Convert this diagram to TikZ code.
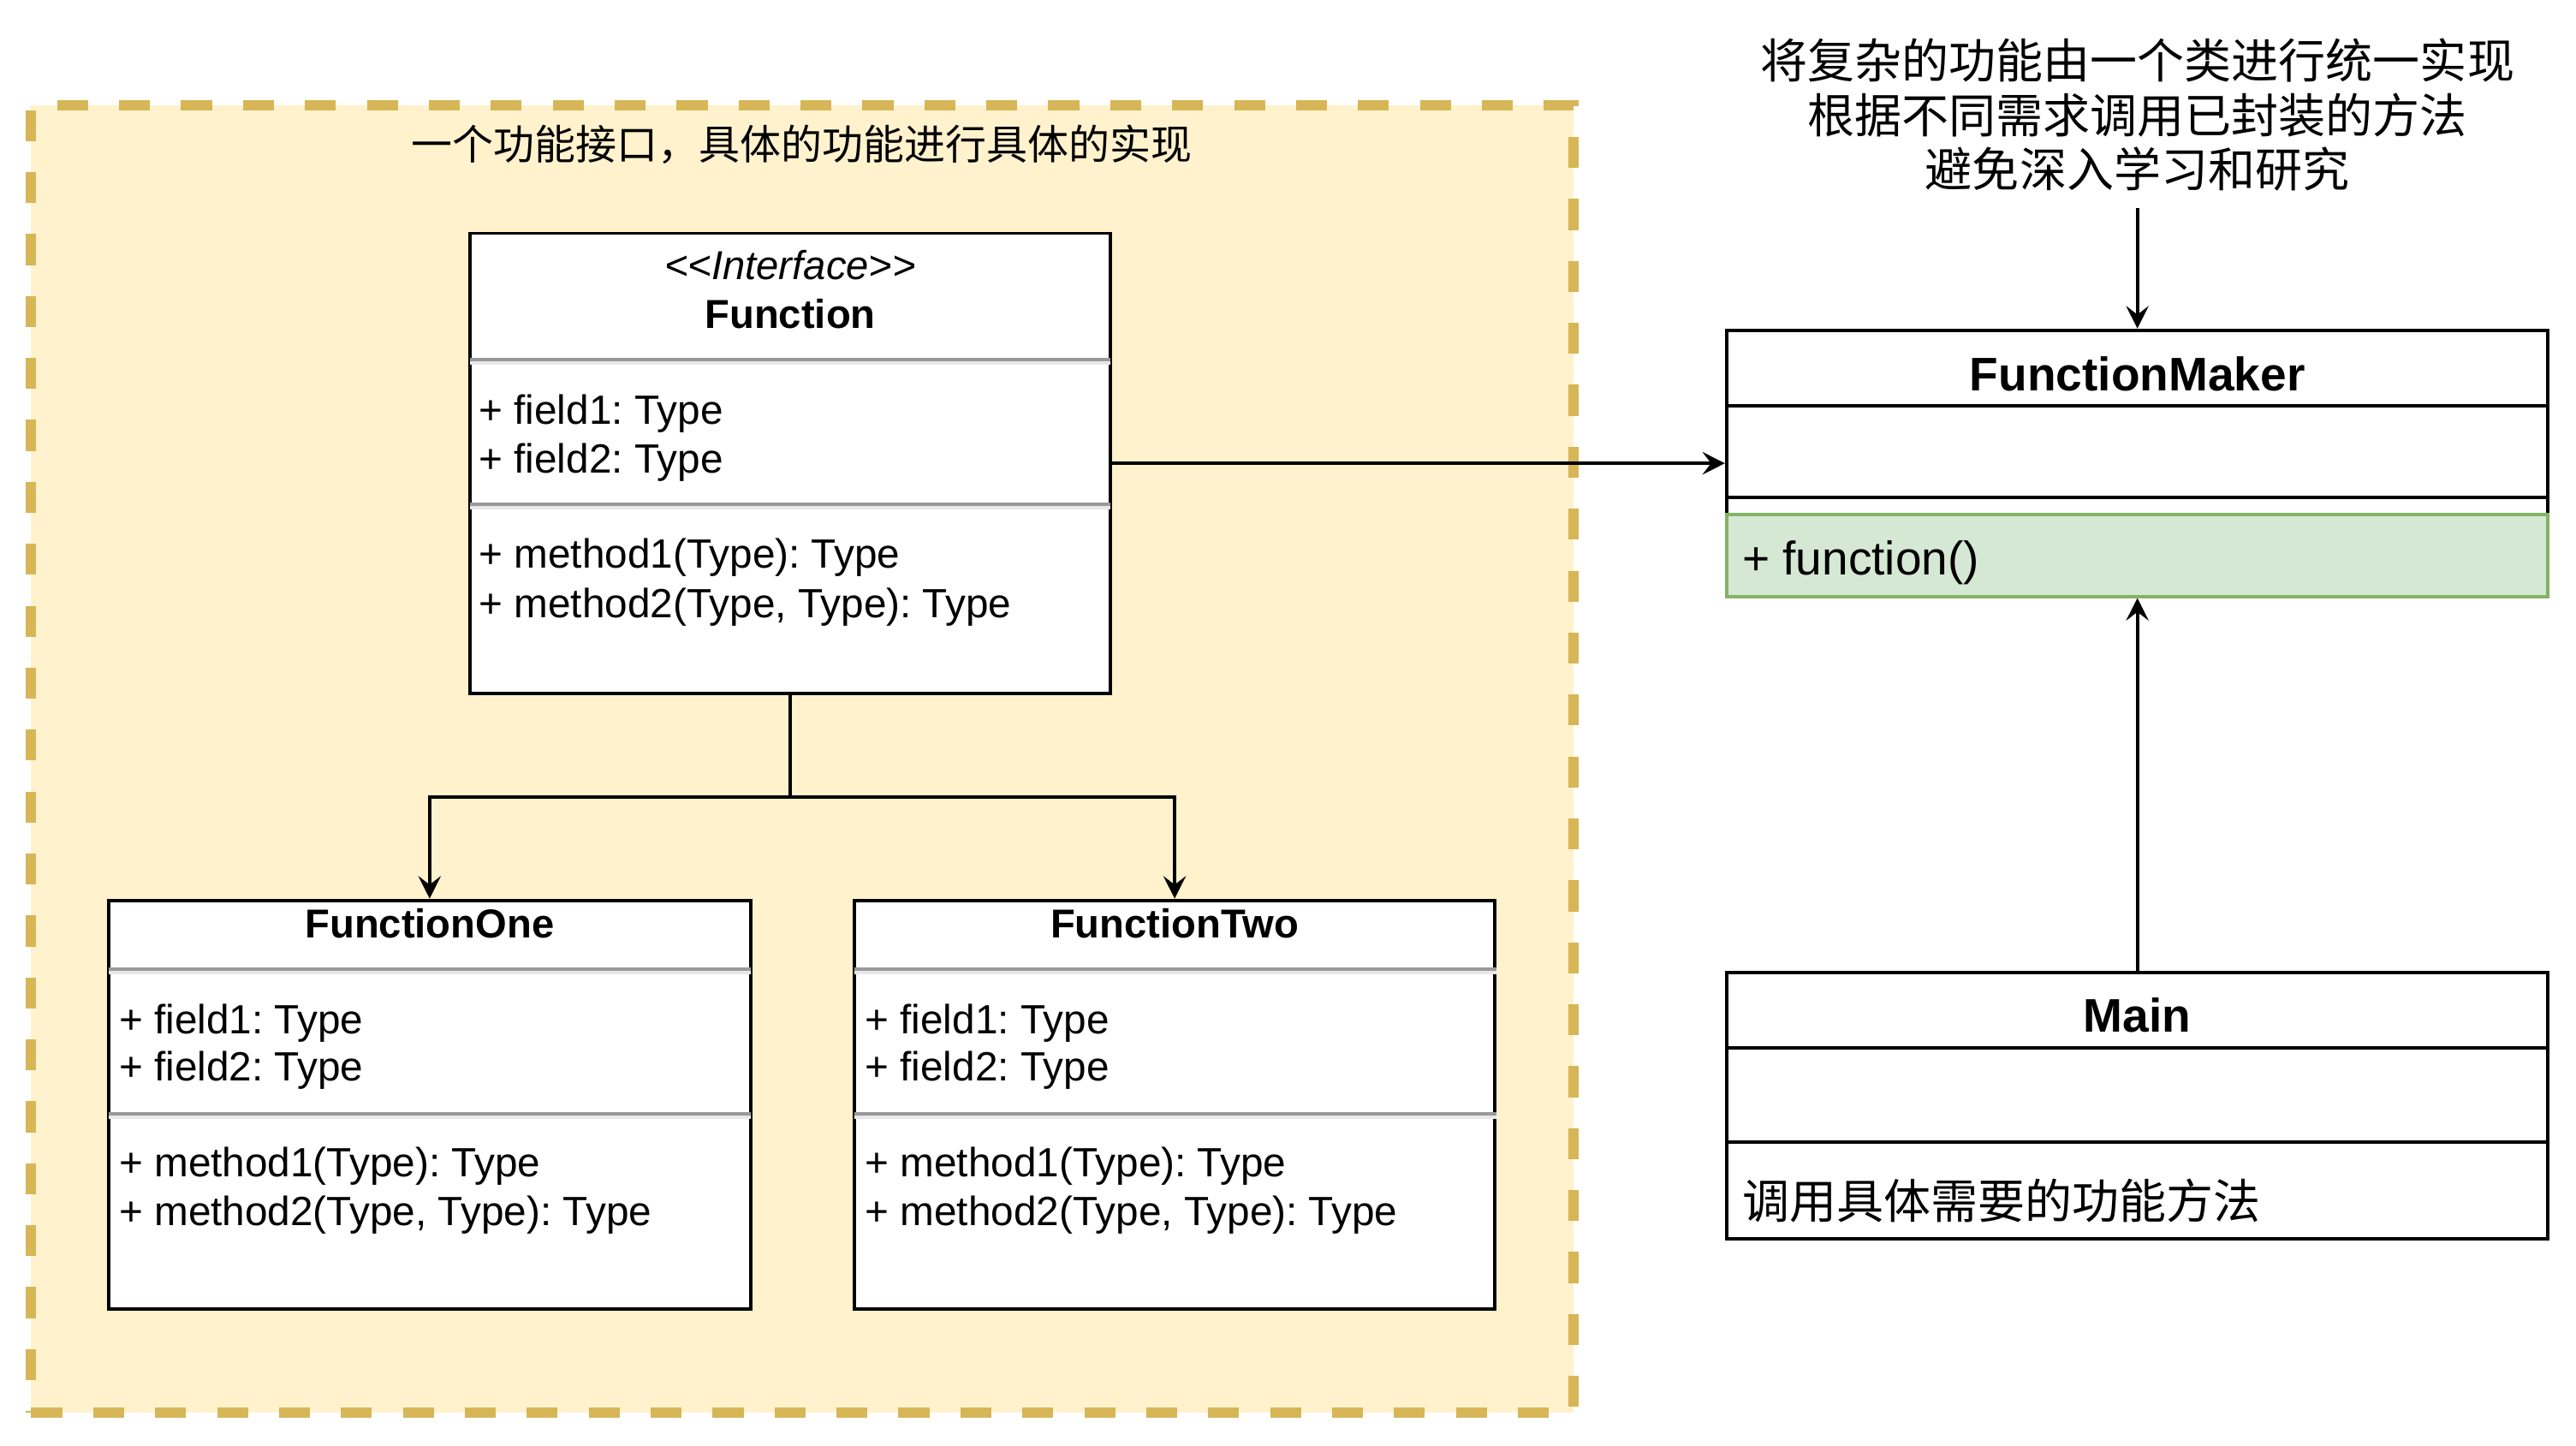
\documentclass[tikz,border=0pt]{standalone}
\usepackage{fontspec}
\setmainfont{Liberation Sans}
\newfontfamily\cjk{Noto Sans CJK SC}
\usetikzlibrary{arrows.meta}
\frenchspacing

\newcommand{\unitpx}{0.366pt}
\definecolor{groupfill}{HTML}{FFF2CC}
\definecolor{groupline}{HTML}{D6B656}
\definecolor{opfill}{HTML}{D5E8D4}
\definecolor{opline}{HTML}{82B366}
\definecolor{sepgray}{HTML}{999999}
\definecolor{seplight}{HTML}{E8E8E8}

\tikzset{
  umlbox/.style={draw, fill=white, line width=0.75pt, inner sep=0pt},
  conn/.style={line width=0.75pt, -{Stealth[length=5pt, width=5pt, inset=1.9pt]}},
  member/.style={anchor=base west, inner sep=0pt, font=\fontsize{9.1}{10.9}\selectfont},
  bigmember/.style={anchor=base west, inner sep=0pt, font=\fontsize{10.5}{12.6}\selectfont},
  classtitle/.style={anchor=base, inner sep=0pt, font=\fontsize{9}{10.8}\selectfont\bfseries},
  bigtitle/.style={anchor=base, inner sep=0pt, font=\fontsize{10.5}{12.6}\selectfont\bfseries},
  sepline/.style={draw=sepgray, line width=0.75pt},
  seplit/.style={draw=seplight, line width=0.75pt},
}

\begin{document}
\begin{tikzpicture}[x=\unitpx, y=-\unitpx]
\useasboundingbox (0,0) rectangle (1568,880);

% dashed group
\node[draw=groupline, fill=groupfill, line width=2.3pt, dash pattern=on 6.9pt off 6.9pt,
      minimum width=939*\unitpx, minimum height=796*\unitpx, inner sep=0pt] (group) at (488.5,462) {};
\node[anchor=base, inner sep=0pt, font=\cjk\fontsize{9.15}{11}\selectfont] (grouplabel) at (488,97)
    {一个功能接口，具体的功能进行具体的实现};

% interface
\node[umlbox, minimum width=390*\unitpx, minimum height=280*\unitpx] (func) at (481,282) {};
\node[anchor=base, inner sep=0pt, font=\fontsize{9}{10.8}\selectfont\itshape] (functag) at (481,170) {<{}<Interface>{}>};
\node[classtitle] (funcname) at (481,200) {Function};
\draw[sepline] (286,219) -- (676,219);
\draw[seplit] (286,221) -- (676,221);
\node[member] (funcf1) at (291,258) {+ field1: Type};
\node[member] (funcf2) at (291,288) {+ field2: Type};
\draw[sepline] (286,307) -- (676,307);
\draw[seplit] (286,309) -- (676,309);
\node[member] (funcm1) at (291,346) {+ method1(Type): Type};
\node[member] (funcm2) at (291,376) {+ method2(Type, Type): Type};

% implementations
\node[umlbox, minimum width=391*\unitpx, minimum height=249*\unitpx] (fone) at (261.5,672.5) {};
\node[umlbox, minimum width=390*\unitpx, minimum height=249*\unitpx] (ftwo) at (715,672.5) {};
\node[classtitle] (fonename) at (261.5,571) {FunctionOne};
\node[classtitle] (ftwoname) at (715,571) {FunctionTwo};
\foreach \bx/\nm in {66/fone, 520/ftwo} {
  \draw[sepline] (\bx,590) -- (\bx+391,590);
  \draw[seplit] (\bx,592) -- (\bx+391,592);
  \node[member] (\nm f1) at (\bx+6,629) {+ field1: Type};
  \node[member] (\nm f2) at (\bx+6,658) {+ field2: Type};
  \draw[sepline] (\bx,678) -- (\bx+391,678);
  \draw[seplit] (\bx,680) -- (\bx+391,680);
  \node[member] (\nm m1) at (\bx+6,716) {+ method1(Type): Type};
  \node[member] (\nm m2) at (\bx+6,746) {+ method2(Type, Type): Type};
}

% maker
\node[umlbox, minimum width=500*\unitpx, minimum height=162*\unitpx] (maker) at (1301,282) {};
\node[bigtitle] (makername) at (1301,238) {FunctionMaker};
\draw[line width=0.75pt] (1051,247) -- (1551,247);
\draw[line width=0.75pt] (1051,303) -- (1551,303);
\node[draw=opline, fill=opfill, line width=0.75pt, minimum width=500*\unitpx, minimum height=50*\unitpx,
      inner sep=0pt] (makerop) at (1301,338) {};
\node[bigmember] (makerfn) at (1060,350) {+ function()};

% main
\node[umlbox, minimum width=500*\unitpx, minimum height=162*\unitpx] (main) at (1301,673) {};
\node[bigtitle] (mainname) at (1301,628) {Main};
\draw[line width=0.75pt] (1051,638) -- (1551,638);
\draw[line width=0.75pt] (1051,695) -- (1551,695);
\node[bigmember, font=\cjk\fontsize{10.5}{12.6}\selectfont] (maintext) at (1060,742) {调用具体需要的功能方法};

% note
\node[align=center, inner xsep=0pt, inner ysep=3.6pt, font=\cjk\fontsize{10.5}{12.1}\selectfont] (note) at (1301,70)
    {将复杂的功能由一个类进行统一实现\\根据不同需求调用已封装的方法\\避免深入学习和研究};

% connectors
\coordinate (split) at (481,485);
\draw[line width=0.75pt] (func.south) -- (split);
\draw[conn] (split) -| (fone.north);
\draw[conn] (split) -| (ftwo.north);
\draw[conn] (func.east) -- (maker.west);
\draw[conn] (note.south) -- (maker.north);
\draw[conn] (main.north) -- (makerop.south);
\end{tikzpicture}
\end{document}
